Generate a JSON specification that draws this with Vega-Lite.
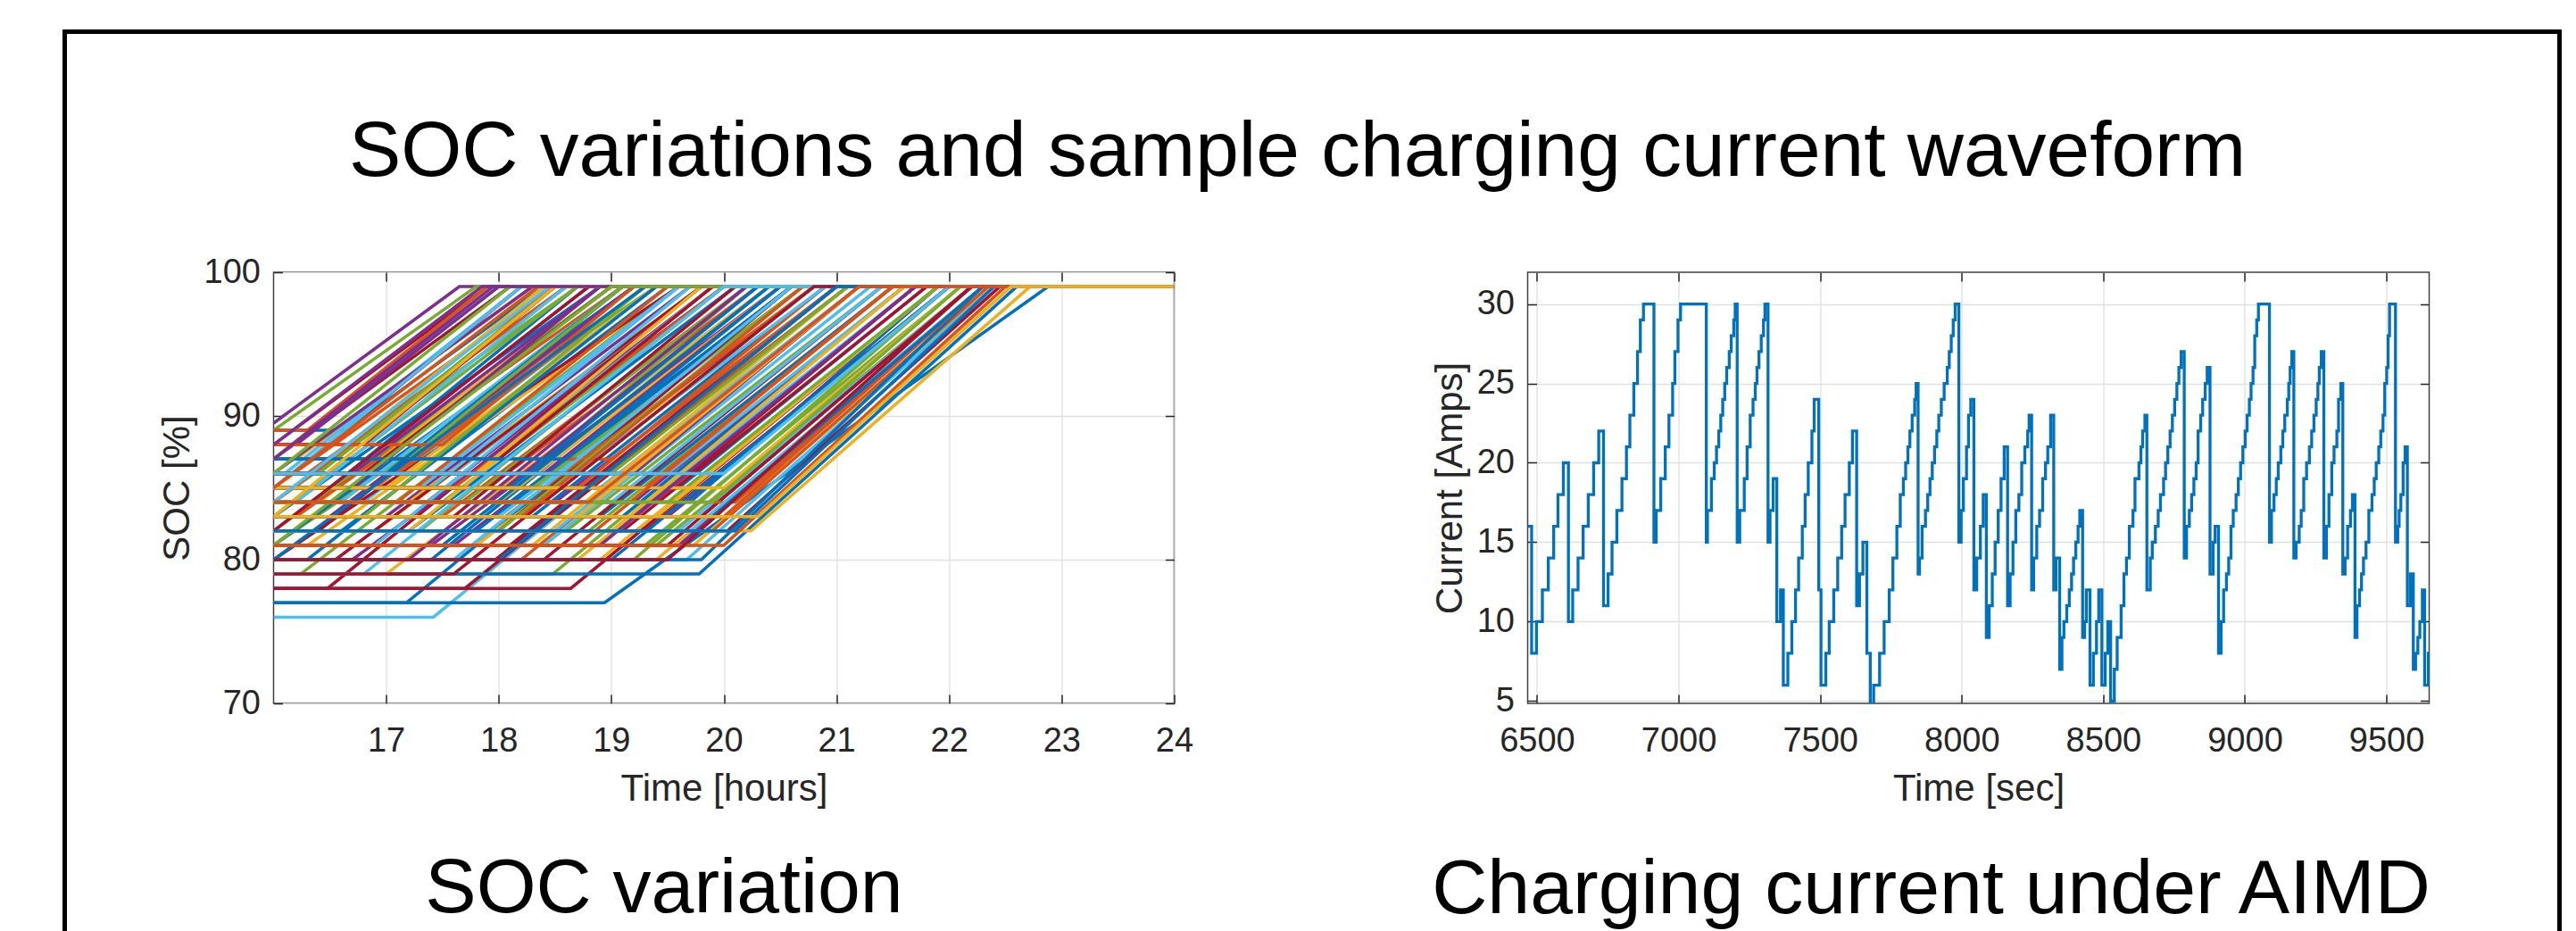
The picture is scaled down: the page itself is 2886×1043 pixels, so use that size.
{
"$schema": "https://vega.github.io/schema/vega-lite/v6.json",
"background": "white",
"padding": {"left": 71.5, "top": 34, "right": 0, "bottom": 0},
"config": {
  "font": "Liberation Sans",
  "view": {"stroke": null},
  "axis": {"labelFont": "Liberation Sans", "titleFont": "Liberation Sans", "labelFontSize": 38, "titleFontSize": 42, "labelColor": "#262626", "titleColor": "#262626", "titleFontWeight": "normal", "domain": false, "tickColor": "#262626", "tickSize": -10, "tickWidth": 1.5, "gridColor": "#e0e0e0", "gridWidth": 1.3, "labelFlush": false, "labelOverlap": false, "format": "d"},
  "legend": {"gradientHorizontalMaxLength": 4000, "gradientVerticalMaxLength": 4000},
  "title": {"font": "Liberation Sans", "fontWeight": "normal", "color": "black"}
},
"title": {"text": "SOC variations and sample charging current waveform", "fontSize": 87.5, "baseline": "alphabetic", "offset": -250, "dx": -18, "anchor": "middle"},
"bounds": "flush",
"spacing": 396,
"hconcat": [
   {
    "width": 1009, "height": 483,
    "view": {"stroke": "#404040", "strokeWidth": 1.5},
    "title": {"text": "SOC variation", "orient": "bottom", "fontSize": 86, "baseline": "alphabetic", "offset": 118, "frame": "group", "anchor": "middle", "dx": -67},
    "layer": [
     {
      "data": {"values": [
{"k":1,"t":16,"s":89},{"k":1,"t":16.64,"s":89},{"k":1,"t":18.4,"s":99},{"k":1,"t":24,"s":99},
{"k":2,"t":16,"s":85},{"k":2,"t":18.5,"s":99},{"k":2,"t":24,"s":99},
{"k":3,"t":16,"s":87},{"k":3,"t":16.2,"s":87},{"k":3,"t":18.3,"s":99},{"k":3,"t":24,"s":99},
{"k":4,"t":16,"s":89.5},{"k":4,"t":17.65,"s":99},{"k":4,"t":24,"s":99},
{"k":5,"t":16,"s":84},{"k":5,"t":18.7,"s":99},{"k":5,"t":24,"s":99},
{"k":6,"t":16,"s":86},{"k":6,"t":16.1,"s":86},{"k":6,"t":18.2,"s":99},{"k":6,"t":24,"s":99},
{"k":7,"t":16,"s":88},{"k":7,"t":16.48,"s":88},{"k":7,"t":18.2,"s":99},{"k":7,"t":24,"s":99},
{"k":8,"t":16,"s":83},{"k":8,"t":18.9,"s":99},{"k":8,"t":24,"s":99},
{"k":9,"t":16,"s":86},{"k":9,"t":16.3,"s":86},{"k":9,"t":18.6,"s":99},{"k":9,"t":24,"s":99},
{"k":10,"t":16,"s":84},{"k":10,"t":16.4,"s":84},{"k":10,"t":19.0,"s":99},{"k":10,"t":24,"s":99},
{"k":11,"t":16,"s":84},{"k":11,"t":17.36,"s":84},{"k":11,"t":19.8,"s":99},{"k":11,"t":24,"s":99},
{"k":12,"t":16,"s":82},{"k":12,"t":19.0,"s":99},{"k":12,"t":24,"s":99},
{"k":13,"t":16,"s":87},{"k":13,"t":18.0,"s":99},{"k":13,"t":24,"s":99},
{"k":14,"t":16,"s":88},{"k":14,"t":17.9,"s":99},{"k":14,"t":24,"s":99},
{"k":15,"t":16,"s":85},{"k":15,"t":16.5,"s":85},{"k":15,"t":18.7,"s":99},{"k":15,"t":24,"s":99},
{"k":16,"t":16,"s":83},{"k":16,"t":16.2,"s":83},{"k":16,"t":19.1,"s":99},{"k":16,"t":24,"s":99},
{"k":17,"t":16,"s":87},{"k":17,"t":16.95,"s":87},{"k":17,"t":18.9,"s":99},{"k":17,"t":24,"s":99},
{"k":18,"t":16,"s":86},{"k":18,"t":16.7,"s":86},{"k":18,"t":18.9,"s":99},{"k":18,"t":24,"s":99},
{"k":19,"t":16,"s":81},{"k":19,"t":19.4,"s":99},{"k":19,"t":24,"s":99},
{"k":20,"t":16,"s":84},{"k":20,"t":16.8,"s":84},{"k":20,"t":19.3,"s":99},{"k":20,"t":24,"s":99},
{"k":21,"t":16,"s":78},{"k":21,"t":16.48,"s":78},{"k":21,"t":19.8,"s":99},{"k":21,"t":24,"s":99},
{"k":22,"t":16,"s":82},{"k":22,"t":16.6,"s":82},{"k":22,"t":19.5,"s":99},{"k":22,"t":24,"s":99},
{"k":23,"t":16,"s":85},{"k":23,"t":16.9,"s":85},{"k":23,"t":19.2,"s":99},{"k":23,"t":24,"s":99},
{"k":24,"t":16,"s":81},{"k":24,"t":16.3,"s":81},{"k":24,"t":19.6,"s":99},{"k":24,"t":24,"s":99},
{"k":25,"t":16,"s":83},{"k":25,"t":17.0,"s":83},{"k":25,"t":19.7,"s":99},{"k":25,"t":24,"s":99},
{"k":26,"t":16,"s":79},{"k":26,"t":16.24,"s":79},{"k":26,"t":19.6,"s":99},{"k":26,"t":24,"s":99},
{"k":27,"t":16,"s":76},{"k":27,"t":17.42,"s":76},{"k":27,"t":21.0,"s":99},{"k":27,"t":24,"s":99},
{"k":28,"t":16,"s":80},{"k":28,"t":19.6,"s":99},{"k":28,"t":24,"s":99},
{"k":29,"t":16,"s":77},{"k":29,"t":17.18,"s":77},{"k":29,"t":20.6,"s":99},{"k":29,"t":24,"s":99},
{"k":30,"t":16,"s":86},{"k":30,"t":17.1,"s":86},{"k":30,"t":19.3,"s":99},{"k":30,"t":24,"s":99},
{"k":31,"t":16,"s":84},{"k":31,"t":17.2,"s":84},{"k":31,"t":19.8,"s":99},{"k":31,"t":24,"s":99},
{"k":32,"t":16,"s":88},{"k":32,"t":17.0,"s":88},{"k":32,"t":18.8,"s":99},{"k":32,"t":24,"s":99},
{"k":33,"t":16,"s":82},{"k":33,"t":17.3,"s":82},{"k":33,"t":20.0,"s":99},{"k":33,"t":24,"s":99},
{"k":34,"t":16,"s":85},{"k":34,"t":17.3,"s":85},{"k":34,"t":19.6,"s":99},{"k":34,"t":24,"s":99},
{"k":35,"t":16,"s":78},{"k":35,"t":17.7,"s":78},{"k":35,"t":21.0,"s":99},{"k":35,"t":24,"s":99},
{"k":36,"t":16,"s":80},{"k":36,"t":17.4,"s":80},{"k":36,"t":20.4,"s":99},{"k":36,"t":24,"s":99},
{"k":37,"t":16,"s":83},{"k":37,"t":17.5,"s":83},{"k":37,"t":20.2,"s":99},{"k":37,"t":24,"s":99},
{"k":38,"t":16,"s":87},{"k":38,"t":17.4,"s":87},{"k":38,"t":19.4,"s":99},{"k":38,"t":24,"s":99},
{"k":39,"t":16,"s":81},{"k":39,"t":17.6,"s":81},{"k":39,"t":20.6,"s":99},{"k":39,"t":24,"s":99},
{"k":40,"t":16,"s":84},{"k":40,"t":17.7,"s":84},{"k":40,"t":20.2,"s":99},{"k":40,"t":24,"s":99},
{"k":41,"t":16,"s":86},{"k":41,"t":17.6,"s":86},{"k":41,"t":19.8,"s":99},{"k":41,"t":24,"s":99},
{"k":42,"t":16,"s":80},{"k":42,"t":17.97,"s":80},{"k":42,"t":21.0,"s":99},{"k":42,"t":24,"s":99},
{"k":43,"t":16,"s":82},{"k":43,"t":17.8,"s":82},{"k":43,"t":20.6,"s":99},{"k":43,"t":24,"s":99},
{"k":44,"t":16,"s":85},{"k":44,"t":17.9,"s":85},{"k":44,"t":20.3,"s":99},{"k":44,"t":24,"s":99},
{"k":45,"t":16,"s":81},{"k":45,"t":17.8,"s":81},{"k":45,"t":20.8,"s":99},{"k":45,"t":24,"s":99},
{"k":46,"t":16,"s":87},{"k":46,"t":17.9,"s":87},{"k":46,"t":19.9,"s":99},{"k":46,"t":24,"s":99},
{"k":47,"t":16,"s":79},{"k":47,"t":18.48,"s":79},{"k":47,"t":21.6,"s":99},{"k":47,"t":24,"s":99},
{"k":48,"t":16,"s":83},{"k":48,"t":18.0,"s":83},{"k":48,"t":20.7,"s":99},{"k":48,"t":24,"s":99},
{"k":49,"t":16,"s":78},{"k":49,"t":18.64,"s":78},{"k":49,"t":21.9,"s":99},{"k":49,"t":24,"s":99},
{"k":50,"t":16,"s":84},{"k":50,"t":18.1,"s":84},{"k":50,"t":20.6,"s":99},{"k":50,"t":24,"s":99},
{"k":51,"t":16,"s":80},{"k":51,"t":18.2,"s":80},{"k":51,"t":21.2,"s":99},{"k":51,"t":24,"s":99},
{"k":52,"t":16,"s":86},{"k":52,"t":18.2,"s":86},{"k":52,"t":20.4,"s":99},{"k":52,"t":24,"s":99},
{"k":53,"t":16,"s":84},{"k":53,"t":18.5,"s":84},{"k":53,"t":21.0,"s":99},{"k":53,"t":24,"s":99},
{"k":54,"t":16,"s":85},{"k":54,"t":18.3,"s":85},{"k":54,"t":20.7,"s":99},{"k":54,"t":24,"s":99},
{"k":55,"t":16,"s":81},{"k":55,"t":18.4,"s":81},{"k":55,"t":21.3,"s":99},{"k":55,"t":24,"s":99},
{"k":56,"t":16,"s":83},{"k":56,"t":18.5,"s":83},{"k":56,"t":21.1,"s":99},{"k":56,"t":24,"s":99},
{"k":57,"t":16,"s":77},{"k":57,"t":18.94,"s":77},{"k":57,"t":22.88,"s":99},{"k":57,"t":24,"s":99},
{"k":58,"t":16,"s":84},{"k":58,"t":18.6,"s":84},{"k":58,"t":21.1,"s":99},{"k":58,"t":24,"s":99},
{"k":59,"t":16,"s":80},{"k":59,"t":18.7,"s":80},{"k":59,"t":21.7,"s":99},{"k":59,"t":24,"s":99},
{"k":60,"t":16,"s":86},{"k":60,"t":18.6,"s":86},{"k":60,"t":20.8,"s":99},{"k":60,"t":24,"s":99},
{"k":61,"t":16,"s":82},{"k":61,"t":18.8,"s":82},{"k":61,"t":21.5,"s":99},{"k":61,"t":24,"s":99},
{"k":62,"t":16,"s":85},{"k":62,"t":18.9,"s":85},{"k":62,"t":21.2,"s":99},{"k":62,"t":24,"s":99},
{"k":63,"t":16,"s":82},{"k":63,"t":18.0,"s":82},{"k":63,"t":20.6,"s":99},{"k":63,"t":24,"s":99},
{"k":64,"t":16,"s":83},{"k":64,"t":19.1,"s":83},{"k":64,"t":21.6,"s":99},{"k":64,"t":24,"s":99},
{"k":65,"t":16,"s":83},{"k":65,"t":18.06,"s":83},{"k":65,"t":20.8,"s":99},{"k":65,"t":24,"s":99},
{"k":66,"t":16,"s":81},{"k":66,"t":19.73,"s":81},{"k":66,"t":22.4,"s":99},{"k":66,"t":24,"s":99},
{"k":67,"t":16,"s":85},{"k":67,"t":19.84,"s":85},{"k":67,"t":21.9,"s":99},{"k":67,"t":24,"s":99},
{"k":68,"t":16,"s":80},{"k":68,"t":19.2,"s":80},{"k":68,"t":22.0,"s":99},{"k":68,"t":24,"s":99},
{"k":69,"t":16,"s":80},{"k":69,"t":19.67,"s":80},{"k":69,"t":22.4,"s":99},{"k":69,"t":24,"s":99},
{"k":70,"t":16,"s":82},{"k":70,"t":20.03,"s":82},{"k":70,"t":22.45,"s":99},{"k":70,"t":24,"s":99},
{"k":71,"t":16,"s":79},{"k":71,"t":19.78,"s":79},{"k":71,"t":22.6,"s":99},{"k":71,"t":24,"s":99},
{"k":72,"t":16,"s":84},{"k":72,"t":19.4,"s":84},{"k":72,"t":21.7,"s":99},{"k":72,"t":24,"s":99},
{"k":73,"t":16,"s":80},{"k":73,"t":19.4,"s":80},{"k":73,"t":22.3,"s":99},{"k":73,"t":24,"s":99},
{"k":74,"t":16,"s":83},{"k":74,"t":19.5,"s":83},{"k":74,"t":22.0,"s":99},{"k":74,"t":24,"s":99},
{"k":75,"t":16,"s":81},{"k":75,"t":19.4,"s":81},{"k":75,"t":22.2,"s":99},{"k":75,"t":24,"s":99},
{"k":76,"t":16,"s":82},{"k":76,"t":19.6,"s":82},{"k":76,"t":22.2,"s":99},{"k":76,"t":24,"s":99},
{"k":77,"t":16,"s":83},{"k":77,"t":19.8,"s":83},{"k":77,"t":22.2,"s":99},{"k":77,"t":24,"s":99},
{"k":78,"t":16,"s":84},{"k":78,"t":19.7,"s":84},{"k":78,"t":21.9,"s":99},{"k":78,"t":24,"s":99},
{"k":79,"t":16,"s":82},{"k":79,"t":19.9,"s":82},{"k":79,"t":22.35,"s":99},{"k":79,"t":24,"s":99},
{"k":80,"t":16,"s":82},{"k":80,"t":20.24,"s":82},{"k":80,"t":22.72,"s":99},{"k":80,"t":24,"s":99},
{"k":81,"t":16,"s":86},{"k":81,"t":18.3,"s":99},{"k":81,"t":24,"s":99},
{"k":82,"t":16,"s":83},{"k":82,"t":18.7,"s":99},{"k":82,"t":24,"s":99},
{"k":83,"t":16,"s":85},{"k":83,"t":18.2,"s":99},{"k":83,"t":24,"s":99},
{"k":84,"t":16,"s":87},{"k":84,"t":18.1,"s":99},{"k":84,"t":24,"s":99},
{"k":85,"t":16,"s":81},{"k":85,"t":19.2,"s":99},{"k":85,"t":24,"s":99},
{"k":86,"t":16,"s":84},{"k":86,"t":18.6,"s":99},{"k":86,"t":24,"s":99},
{"k":87,"t":16,"s":82},{"k":87,"t":16.9,"s":82},{"k":87,"t":19.8,"s":99},{"k":87,"t":24,"s":99},
{"k":88,"t":16,"s":80},{"k":88,"t":16.7,"s":80},{"k":88,"t":20.0,"s":99},{"k":88,"t":24,"s":99},
{"k":89,"t":16,"s":84},{"k":89,"t":17.5,"s":84},{"k":89,"t":20.0,"s":99},{"k":89,"t":24,"s":99},
{"k":90,"t":16,"s":86},{"k":90,"t":17.8,"s":86},{"k":90,"t":19.9,"s":99},{"k":90,"t":24,"s":99},
{"k":91,"t":16,"s":81},{"k":91,"t":18.1,"s":81},{"k":91,"t":21.0,"s":99},{"k":91,"t":24,"s":99},
{"k":92,"t":16,"s":83},{"k":92,"t":18.3,"s":83},{"k":92,"t":20.9,"s":99},{"k":92,"t":24,"s":99},
{"k":93,"t":16,"s":85},{"k":93,"t":18.7,"s":85},{"k":93,"t":20.9,"s":99},{"k":93,"t":24,"s":99},
{"k":94,"t":16,"s":80},{"k":94,"t":18.9,"s":80},{"k":94,"t":21.9,"s":99},{"k":94,"t":24,"s":99},
{"k":95,"t":16,"s":84},{"k":95,"t":19.2,"s":84},{"k":95,"t":21.6,"s":99},{"k":95,"t":24,"s":99},
{"k":96,"t":16,"s":81},{"k":96,"t":19.3,"s":81},{"k":96,"t":22.1,"s":99},{"k":96,"t":24,"s":99},
{"k":97,"t":16,"s":86},{"k":97,"t":19.5,"s":86},{"k":97,"t":21.6,"s":99},{"k":97,"t":24,"s":99},
{"k":98,"t":16,"s":82},{"k":98,"t":19.3,"s":82},{"k":98,"t":22.0,"s":99},{"k":98,"t":24,"s":99},
{"k":99,"t":16,"s":80},{"k":99,"t":19.8,"s":80},{"k":99,"t":22.3,"s":99},{"k":99,"t":24,"s":99},
{"k":100,"t":16,"s":83},{"k":100,"t":20.0,"s":83},{"k":100,"t":22.3,"s":99},{"k":100,"t":24,"s":99},
{"k":101,"t":16,"s":87},{"k":101,"t":17.9,"s":99},{"k":101,"t":24,"s":99},
{"k":102,"t":16,"s":83},{"k":102,"t":16.5,"s":83},{"k":102,"t":19.2,"s":99},{"k":102,"t":24,"s":99},
{"k":103,"t":16,"s":89},{"k":103,"t":17.8,"s":99},{"k":103,"t":24,"s":99},
{"k":104,"t":16,"s":84},{"k":104,"t":16.6,"s":84},{"k":104,"t":19.1,"s":99},{"k":104,"t":24,"s":99},
{"k":105,"t":16,"s":86},{"k":105,"t":16.8,"s":86},{"k":105,"t":19.0,"s":99},{"k":105,"t":24,"s":99},
{"k":106,"t":16,"s":82},{"k":106,"t":17.2,"s":82},{"k":106,"t":20.1,"s":99},{"k":106,"t":24,"s":99},
{"k":107,"t":16,"s":85},{"k":107,"t":17.6,"s":85},{"k":107,"t":20.0,"s":99},{"k":107,"t":24,"s":99},
{"k":108,"t":16,"s":79},{"k":108,"t":17.0,"s":79},{"k":108,"t":20.4,"s":99},{"k":108,"t":24,"s":99},
{"k":109,"t":16,"s":81},{"k":109,"t":17.4,"s":81},{"k":109,"t":20.5,"s":99},{"k":109,"t":24,"s":99},
{"k":110,"t":16,"s":87},{"k":110,"t":18.4,"s":87},{"k":110,"t":20.2,"s":99},{"k":110,"t":24,"s":99},
{"k":111,"t":16,"s":85},{"k":111,"t":18.5,"s":85},{"k":111,"t":20.9,"s":99},{"k":111,"t":24,"s":99},
{"k":112,"t":16,"s":80},{"k":112,"t":16.55,"s":80},{"k":112,"t":19.8,"s":99},{"k":112,"t":24,"s":99},
{"k":113,"t":16,"s":83},{"k":113,"t":18.9,"s":83},{"k":113,"t":21.5,"s":99},{"k":113,"t":24,"s":99},
{"k":114,"t":16,"s":87},{"k":114,"t":19.0,"s":87},{"k":114,"t":21.0,"s":99},{"k":114,"t":24,"s":99},
{"k":115,"t":16,"s":84},{"k":115,"t":18.0,"s":84},{"k":115,"t":20.5,"s":99},{"k":115,"t":24,"s":99},
{"k":116,"t":16,"s":86},{"k":116,"t":19.2,"s":86},{"k":116,"t":21.2,"s":99},{"k":116,"t":24,"s":99},
{"k":117,"t":16,"s":82},{"k":117,"t":18.6,"s":82},{"k":117,"t":21.4,"s":99},{"k":117,"t":24,"s":99},
{"k":118,"t":16,"s":84},{"k":118,"t":19.3,"s":84},{"k":118,"t":21.7,"s":99},{"k":118,"t":24,"s":99},
{"k":119,"t":16,"s":81},{"k":119,"t":19.5,"s":81},{"k":119,"t":22.2,"s":99},{"k":119,"t":24,"s":99},
{"k":120,"t":16,"s":85},{"k":120,"t":19.6,"s":85},{"k":120,"t":21.8,"s":99},{"k":120,"t":24,"s":99},
{"k":121,"t":16,"s":84},{"k":121,"t":20.1,"s":84},{"k":121,"t":22.3,"s":99},{"k":121,"t":24,"s":99},
{"k":122,"t":16,"s":85},{"k":122,"t":17.0,"s":85},{"k":122,"t":19.4,"s":99},{"k":122,"t":24,"s":99},
{"k":123,"t":16,"s":88},{"k":123,"t":16.2,"s":88},{"k":123,"t":18.0,"s":99},{"k":123,"t":24,"s":99},
{"k":124,"t":16,"s":86},{"k":124,"t":16.4,"s":86},{"k":124,"t":18.5,"s":99},{"k":124,"t":24,"s":99},
{"k":125,"t":16,"s":84},{"k":125,"t":16.2,"s":84},{"k":125,"t":18.6,"s":99},{"k":125,"t":24,"s":99},
{"k":126,"t":16,"s":82},{"k":126,"t":16.4,"s":82},{"k":126,"t":19.1,"s":99},{"k":126,"t":24,"s":99},
{"k":127,"t":16,"s":80},{"k":127,"t":16.3,"s":80},{"k":127,"t":19.4,"s":99},{"k":127,"t":24,"s":99},
{"k":128,"t":16,"s":89},{"k":128,"t":16.3,"s":89},{"k":128,"t":17.9,"s":99},{"k":128,"t":24,"s":99},
{"k":129,"t":16,"s":87},{"k":129,"t":16.5,"s":87},{"k":129,"t":18.4,"s":99},{"k":129,"t":24,"s":99},
{"k":130,"t":16,"s":85},{"k":130,"t":16.7,"s":85},{"k":130,"t":18.9,"s":99},{"k":130,"t":24,"s":99},
{"k":131,"t":16,"s":83},{"k":131,"t":16.8,"s":83},{"k":131,"t":19.3,"s":99},{"k":131,"t":24,"s":99},
{"k":132,"t":16,"s":81},{"k":132,"t":16.9,"s":81},{"k":132,"t":19.7,"s":99},{"k":132,"t":24,"s":99},
{"k":133,"t":16,"s":88},{"k":133,"t":16.8,"s":88},{"k":133,"t":18.5,"s":99},{"k":133,"t":24,"s":99},
{"k":134,"t":16,"s":86},{"k":134,"t":17.0,"s":86},{"k":134,"t":19.1,"s":99},{"k":134,"t":24,"s":99},
{"k":135,"t":16,"s":84},{"k":135,"t":17.1,"s":84},{"k":135,"t":19.5,"s":99},{"k":135,"t":24,"s":99},
{"k":136,"t":16,"s":82},{"k":136,"t":17.2,"s":82},{"k":136,"t":19.9,"s":99},{"k":136,"t":24,"s":99},
{"k":137,"t":16,"s":80},{"k":137,"t":17.2,"s":80},{"k":137,"t":20.2,"s":99},{"k":137,"t":24,"s":99},
{"k":138,"t":16,"s":87},{"k":138,"t":17.2,"s":87},{"k":138,"t":19.1,"s":99},{"k":138,"t":24,"s":99},
{"k":139,"t":16,"s":85},{"k":139,"t":17.4,"s":85},{"k":139,"t":19.6,"s":99},{"k":139,"t":24,"s":99},
{"k":140,"t":16,"s":83},{"k":140,"t":17.6,"s":83},{"k":140,"t":20.1,"s":99},{"k":140,"t":24,"s":99},
{"k":141,"t":16,"s":81},{"k":141,"t":17.5,"s":81},{"k":141,"t":20.4,"s":99},{"k":141,"t":24,"s":99},
{"k":142,"t":16,"s":88},{"k":142,"t":17.5,"s":88},{"k":142,"t":19.2,"s":99},{"k":142,"t":24,"s":99},
{"k":143,"t":16,"s":86},{"k":143,"t":17.8,"s":86},{"k":143,"t":19.8,"s":99},{"k":143,"t":24,"s":99},
{"k":144,"t":16,"s":84},{"k":144,"t":17.9,"s":84},{"k":144,"t":20.3,"s":99},{"k":144,"t":24,"s":99},
{"k":145,"t":16,"s":82},{"k":145,"t":18.0,"s":82},{"k":145,"t":20.7,"s":99},{"k":145,"t":24,"s":99},
{"k":146,"t":16,"s":80},{"k":146,"t":17.6,"s":80},{"k":146,"t":20.6,"s":99},{"k":146,"t":24,"s":99},
{"k":147,"t":16,"s":87},{"k":147,"t":18.0,"s":87},{"k":147,"t":19.9,"s":99},{"k":147,"t":24,"s":99},
{"k":148,"t":16,"s":85},{"k":148,"t":18.1,"s":85},{"k":148,"t":20.3,"s":99},{"k":148,"t":24,"s":99},
{"k":149,"t":16,"s":83},{"k":149,"t":18.2,"s":83},{"k":149,"t":20.7,"s":99},{"k":149,"t":24,"s":99},
{"k":150,"t":16,"s":81},{"k":150,"t":18.3,"s":81},{"k":150,"t":21.1,"s":99},{"k":150,"t":24,"s":99},
{"k":151,"t":16,"s":86},{"k":151,"t":18.4,"s":86},{"k":151,"t":20.5,"s":99},{"k":151,"t":24,"s":99},
{"k":152,"t":16,"s":84},{"k":152,"t":18.4,"s":84},{"k":152,"t":20.8,"s":99},{"k":152,"t":24,"s":99},
{"k":153,"t":16,"s":82},{"k":153,"t":18.5,"s":82},{"k":153,"t":21.2,"s":99},{"k":153,"t":24,"s":99},
{"k":154,"t":16,"s":80},{"k":154,"t":18.4,"s":80},{"k":154,"t":21.4,"s":99},{"k":154,"t":24,"s":99},
{"k":155,"t":16,"s":87},{"k":155,"t":18.6,"s":87},{"k":155,"t":20.5,"s":99},{"k":155,"t":24,"s":99},
{"k":156,"t":16,"s":85},{"k":156,"t":18.8,"s":85},{"k":156,"t":21.0,"s":99},{"k":156,"t":24,"s":99},
{"k":157,"t":16,"s":83},{"k":157,"t":18.7,"s":83},{"k":157,"t":21.2,"s":99},{"k":157,"t":24,"s":99},
{"k":158,"t":16,"s":81},{"k":158,"t":18.9,"s":81},{"k":158,"t":21.7,"s":99},{"k":158,"t":24,"s":99},
{"k":159,"t":16,"s":86},{"k":159,"t":19.0,"s":86},{"k":159,"t":21.1,"s":99},{"k":159,"t":24,"s":99},
{"k":160,"t":16,"s":84},{"k":160,"t":19.0,"s":84},{"k":160,"t":21.4,"s":99},{"k":160,"t":24,"s":99},
{"k":161,"t":16,"s":82},{"k":161,"t":19.1,"s":82},{"k":161,"t":21.8,"s":99},{"k":161,"t":24,"s":99},
{"k":162,"t":16,"s":80},{"k":162,"t":19.0,"s":80},{"k":162,"t":22.0,"s":99},{"k":162,"t":24,"s":99},
{"k":163,"t":16,"s":85},{"k":163,"t":19.3,"s":85},{"k":163,"t":21.5,"s":99},{"k":163,"t":24,"s":99},
{"k":164,"t":16,"s":83},{"k":164,"t":19.4,"s":83},{"k":164,"t":21.9,"s":99},{"k":164,"t":24,"s":99},
{"k":165,"t":16,"s":81},{"k":165,"t":19.6,"s":81},{"k":165,"t":22.3,"s":99},{"k":165,"t":24,"s":99},
{"k":166,"t":16,"s":84},{"k":166,"t":19.5,"s":84},{"k":166,"t":21.9,"s":99},{"k":166,"t":24,"s":99},
{"k":167,"t":16,"s":82},{"k":167,"t":19.7,"s":82},{"k":167,"t":22.3,"s":99},{"k":167,"t":24,"s":99},
{"k":168,"t":16,"s":86},{"k":168,"t":19.7,"s":86},{"k":168,"t":21.7,"s":99},{"k":168,"t":24,"s":99},
{"k":169,"t":16,"s":83},{"k":169,"t":19.9,"s":83},{"k":169,"t":22.3,"s":99},{"k":169,"t":24,"s":99},
{"k":170,"t":16,"s":81},{"k":170,"t":20.0,"s":81},{"k":170,"t":22.5,"s":99},{"k":170,"t":24,"s":99},
{"k":171,"t":16,"s":85},{"k":171,"t":20.0,"s":85},{"k":171,"t":22.1,"s":99},{"k":171,"t":24,"s":99},
{"k":172,"t":16,"s":88},{"k":172,"t":17.85,"s":99},{"k":172,"t":24,"s":99},
{"k":173,"t":16,"s":86},{"k":173,"t":18.1,"s":99},{"k":173,"t":24,"s":99},
{"k":174,"t":16,"s":84},{"k":174,"t":18.45,"s":99},{"k":174,"t":24,"s":99},
{"k":175,"t":16,"s":82},{"k":175,"t":18.8,"s":99},{"k":175,"t":24,"s":99},
{"k":176,"t":16,"s":80},{"k":176,"t":19.3,"s":99},{"k":176,"t":24,"s":99},
{"k":177,"t":16,"s":85},{"k":177,"t":18.35,"s":99},{"k":177,"t":24,"s":99},
{"k":178,"t":16,"s":83},{"k":178,"t":18.5,"s":99},{"k":178,"t":24,"s":99},
{"k":179,"t":16,"s":87},{"k":179,"t":17.95,"s":99},{"k":179,"t":24,"s":99},
{"k":180,"t":16,"s":81},{"k":180,"t":19.0,"s":99},{"k":180,"t":24,"s":99},
{"k":181,"t":16,"s":79},{"k":181,"t":16.8,"s":79},{"k":181,"t":20.0,"s":99},{"k":181,"t":24,"s":99},
{"k":182,"t":16,"s":79},{"k":182,"t":17.6,"s":79},{"k":182,"t":20.8,"s":99},{"k":182,"t":24,"s":99},
{"k":183,"t":16,"s":80},{"k":183,"t":18.0,"s":80},{"k":183,"t":21.0,"s":99},{"k":183,"t":24,"s":99},
{"k":184,"t":16,"s":81},{"k":184,"t":18.7,"s":81},{"k":184,"t":21.5,"s":99},{"k":184,"t":24,"s":99},
{"k":185,"t":16,"s":82},{"k":185,"t":19.0,"s":82},{"k":185,"t":21.6,"s":99},{"k":185,"t":24,"s":99},
{"k":186,"t":16,"s":83},{"k":186,"t":19.2,"s":83},{"k":186,"t":21.7,"s":99},{"k":186,"t":24,"s":99},
{"k":187,"t":16,"s":84},{"k":187,"t":19.9,"s":84},{"k":187,"t":22.1,"s":99},{"k":187,"t":24,"s":99},
{"k":188,"t":16,"s":86},{"k":188,"t":20.0,"s":86},{"k":188,"t":22.0,"s":99},{"k":188,"t":24,"s":99},
{"k":189,"t":16,"s":80},{"k":189,"t":19.5,"s":80},{"k":189,"t":22.2,"s":99},{"k":189,"t":24,"s":99},
{"k":190,"t":16,"s":82},{"k":190,"t":20.1,"s":82},{"k":190,"t":22.4,"s":99},{"k":190,"t":24,"s":99},
{"k":191,"t":16,"s":84},{"k":191,"t":18.8,"s":84},{"k":191,"t":21.2,"s":99},{"k":191,"t":24,"s":99},
{"k":192,"t":16,"s":83},{"k":192,"t":20.3,"s":83},{"k":192,"t":22.55,"s":99},{"k":192,"t":24,"s":99}
      ]},
      "mark": {"type": "line", "strokeWidth": 3.5, "clip": true},
      "encoding": {
        "x": {"field": "t", "type": "quantitative", "scale": {"domain": [16, 24], "nice": false, "zero": false}, "axis": {"values": [17,18,19,20,21,22,23,24], "title": "Time [hours]", "grid": true, "labelPadding": 33, "titlePadding": 14}},
        "y": {"field": "s", "type": "quantitative", "scale": {"domain": [70, 100], "nice": false, "zero": false}, "axis": {"values": [70,80,90,100], "title": "SOC [%]", "grid": true, "labelPadding": 25, "titlePadding": 8}},
        "color": {"field": "k", "type": "nominal", "scale": {"range": ["#0072BD","#D95319","#EDB120","#7E2F8E","#77AC30","#4DBEEE","#A2142F"]}, "legend": null}
      }
     },
     {
      "data": {"values": [{"t": 16, "s": 70}]},
      "mark": {"type": "point", "opacity": 0},
      "encoding": {
        "x": {"field": "t", "type": "quantitative", "axis": {"orient": "top", "values": [17,18,19,20,21,22,23,24], "labels": false, "title": null, "grid": false}},
        "y": {"field": "s", "type": "quantitative", "axis": {"orient": "right", "values": [70,80,90,100], "labels": false, "title": null, "grid": false}}
      }
     }
    ],
    "resolve": {"axis": {"x": "independent", "y": "independent"}}
   },
   {
    "width": 1010, "height": 483,
    "view": {"stroke": "#404040", "strokeWidth": 1.5},
    "title": {"text": "Charging current  under AIMD", "orient": "bottom", "fontSize": 86, "baseline": "alphabetic", "offset": -56, "frame": "group", "anchor": "middle", "dx": -53},
    "layer": [
     {
      "data": {"values": [
{"t":6460,"a":16},{"t":6481,"a":8},{"t":6498,"a":10},{"t":6519,"a":12},{"t":6540,"a":14},{"t":6559,"a":16},{"t":6574,"a":18},{"t":6593,"a":20},
{"t":6611,"a":10},{"t":6626,"a":12},{"t":6645,"a":14},{"t":6663,"a":16},{"t":6681,"a":18},{"t":6700,"a":20},{"t":6718,"a":22},
{"t":6735,"a":11},{"t":6751,"a":13},{"t":6765,"a":15},{"t":6782,"a":17},{"t":6800,"a":19},{"t":6816,"a":21},{"t":6828,"a":23},{"t":6842,"a":25},{"t":6855,"a":27},{"t":6865,"a":29},{"t":6876,"a":30},
{"t":6913,"a":15},{"t":6921,"a":17},{"t":6937,"a":19},{"t":6953,"a":21},{"t":6966,"a":23},{"t":6979,"a":25},{"t":6987,"a":27},{"t":6998,"a":29},{"t":7007,"a":30},
{"t":7098,"a":15},{"t":7102,"a":17},{"t":7116,"a":19},{"t":7126,"a":20},{"t":7134,"a":21},{"t":7142,"a":22},{"t":7149,"a":23},{"t":7156,"a":24},{"t":7163,"a":25},{"t":7170,"a":26},{"t":7179,"a":27},{"t":7186,"a":28},{"t":7195,"a":29},{"t":7200,"a":30},
{"t":7207,"a":15},{"t":7216,"a":17},{"t":7232,"a":19},{"t":7242,"a":21},{"t":7253,"a":23},{"t":7263,"a":24},{"t":7271,"a":25},{"t":7277,"a":26},{"t":7284,"a":27},{"t":7292,"a":28},{"t":7300,"a":29},{"t":7305,"a":30},
{"t":7316,"a":15},{"t":7323,"a":17},{"t":7334,"a":19},{"t":7347,"a":10},{"t":7360,"a":12},{"t":7370,"a":6},{"t":7386,"a":8},{"t":7400,"a":10},{"t":7413,"a":12},{"t":7424,"a":14},{"t":7437,"a":16},{"t":7447,"a":18},{"t":7458,"a":20},{"t":7471,"a":22},{"t":7479,"a":24},
{"t":7495,"a":12},{"t":7503,"a":6},{"t":7520,"a":8},{"t":7532,"a":10},{"t":7548,"a":12},{"t":7562,"a":14},{"t":7576,"a":16},{"t":7588,"a":18},{"t":7603,"a":20},{"t":7614,"a":22},
{"t":7629,"a":11},{"t":7639,"a":13},{"t":7651,"a":15},{"t":7665,"a":8},{"t":7677,"a":4},{"t":7689,"a":6},{"t":7710,"a":8},{"t":7726,"a":10},{"t":7744,"a":12},{"t":7757,"a":14},{"t":7771,"a":16},{"t":7783,"a":18},{"t":7794,"a":19},{"t":7802,"a":20},{"t":7810,"a":21},{"t":7817,"a":22},{"t":7825,"a":23},{"t":7834,"a":24},{"t":7839,"a":25},
{"t":7846,"a":13},{"t":7851,"a":14},{"t":7860,"a":16},{"t":7872,"a":17},{"t":7880,"a":18},{"t":7888,"a":19},{"t":7896,"a":20},{"t":7904,"a":21},{"t":7912,"a":22},{"t":7919,"a":23},{"t":7928,"a":24},{"t":7938,"a":25},{"t":7949,"a":26},{"t":7956,"a":27},{"t":7963,"a":28},{"t":7970,"a":29},{"t":7977,"a":30},
{"t":7990,"a":15},{"t":7998,"a":17},{"t":8006,"a":19},{"t":8017,"a":21},{"t":8024,"a":23},{"t":8032,"a":24},{"t":8043,"a":12},{"t":8053,"a":14},{"t":8066,"a":16},{"t":8076,"a":18},
{"t":8087,"a":9},{"t":8097,"a":11},{"t":8108,"a":13},{"t":8118,"a":15},{"t":8129,"a":17},{"t":8139,"a":19},{"t":8150,"a":21},
{"t":8162,"a":11},{"t":8171,"a":13},{"t":8181,"a":15},{"t":8191,"a":17},{"t":8202,"a":18},{"t":8212,"a":20},{"t":8223,"a":21},{"t":8233,"a":22},{"t":8238,"a":23},
{"t":8247,"a":12},{"t":8254,"a":14},{"t":8265,"a":16},{"t":8275,"a":17},{"t":8286,"a":19},{"t":8296,"a":20},{"t":8304,"a":21},{"t":8314,"a":23},
{"t":8325,"a":12},{"t":8333,"a":14},{"t":8346,"a":7},{"t":8354,"a":9},{"t":8361,"a":10},{"t":8371,"a":11},{"t":8380,"a":12},{"t":8388,"a":13},{"t":8395,"a":14},{"t":8403,"a":15},{"t":8411,"a":16},{"t":8417,"a":17},
{"t":8427,"a":9},{"t":8434,"a":10},{"t":8440,"a":12},{"t":8453,"a":6},{"t":8465,"a":8},{"t":8476,"a":10},{"t":8484,"a":12},{"t":8495,"a":6},{"t":8507,"a":8},{"t":8516,"a":10},{"t":8526,"a":5},{"t":8539,"a":7},{"t":8549,"a":9},{"t":8563,"a":11},{"t":8573,"a":13},{"t":8582,"a":14},{"t":8592,"a":16},{"t":8605,"a":17},
{"t":8612,"a":19},{"t":8626,"a":20},{"t":8633,"a":21},{"t":8639,"a":22},{"t":8647,"a":23},{"t":8654,"a":12},{"t":8666,"a":14},{"t":8673,"a":15},{"t":8684,"a":16},{"t":8694,"a":17},{"t":8702,"a":18},{"t":8713,"a":19},{"t":8720,"a":20},{"t":8728,"a":21},{"t":8736,"a":22},{"t":8744,"a":23},{"t":8752,"a":24},{"t":8760,"a":25},{"t":8767,"a":26},{"t":8775,"a":27},
{"t":8786,"a":14},{"t":8794,"a":16},{"t":8804,"a":17},{"t":8812,"a":18},{"t":8820,"a":19},{"t":8828,"a":20},{"t":8835,"a":22},{"t":8844,"a":23},{"t":8851,"a":24},{"t":8860,"a":25},{"t":8867,"a":26},
{"t":8877,"a":13},{"t":8888,"a":15},{"t":8895,"a":16},{"t":8907,"a":8},{"t":8916,"a":10},{"t":8925,"a":12},{"t":8935,"a":13},{"t":8943,"a":14},{"t":8951,"a":16},{"t":8959,"a":17},{"t":8969,"a":18},{"t":8977,"a":19},{"t":8985,"a":20},{"t":8993,"a":21},{"t":9001,"a":22},{"t":9008,"a":23},{"t":9016,"a":24},{"t":9022,"a":25},{"t":9029,"a":26},{"t":9035,"a":28},{"t":9042,"a":29},{"t":9048,"a":30},
{"t":9087,"a":15},{"t":9094,"a":17},{"t":9103,"a":18},{"t":9111,"a":19},{"t":9118,"a":20},{"t":9127,"a":21},{"t":9134,"a":22},{"t":9141,"a":23},{"t":9150,"a":24},{"t":9155,"a":25},{"t":9160,"a":26},{"t":9166,"a":27},
{"t":9173,"a":14},{"t":9181,"a":15},{"t":9192,"a":16},{"t":9199,"a":17},{"t":9208,"a":19},{"t":9218,"a":20},{"t":9228,"a":21},{"t":9236,"a":22},{"t":9244,"a":23},{"t":9252,"a":24},{"t":9258,"a":25},{"t":9263,"a":26},{"t":9270,"a":27},
{"t":9279,"a":14},{"t":9288,"a":16},{"t":9297,"a":18},{"t":9307,"a":20},{"t":9315,"a":21},{"t":9325,"a":22},{"t":9331,"a":24},{"t":9339,"a":25},
{"t":9346,"a":13},{"t":9354,"a":14},{"t":9363,"a":16},{"t":9373,"a":17},{"t":9380,"a":18},{"t":9389,"a":9},{"t":9396,"a":11},{"t":9405,"a":12},{"t":9412,"a":13},{"t":9419,"a":14},{"t":9428,"a":15},{"t":9438,"a":17},{"t":9449,"a":18},{"t":9457,"a":19},{"t":9464,"a":20},{"t":9473,"a":21},{"t":9480,"a":22},{"t":9488,"a":23},{"t":9494,"a":25},{"t":9501,"a":26},{"t":9506,"a":28},{"t":9511,"a":30},
{"t":9532,"a":15},{"t":9540,"a":16},{"t":9545,"a":17},{"t":9551,"a":18},{"t":9559,"a":20},{"t":9566,"a":21},{"t":9574,"a":11},{"t":9585,"a":13},{"t":9595,"a":7},{"t":9603,"a":8},{"t":9611,"a":9},{"t":9618,"a":10},{"t":9627,"a":12},{"t":9635,"a":6},{"t":9648,"a":8},{"t":9660,"a":8}
      ]},
      "mark": {"type": "line", "interpolate": "step-after", "strokeWidth": 3.3, "color": "#0072BD", "clip": true},
      "encoding": {
        "x": {"field": "t", "type": "quantitative", "scale": {"domain": [6467, 9651], "nice": false, "zero": false}, "axis": {"values": [6500,7000,7500,8000,8500,9000,9500], "title": "Time [sec]", "grid": true, "labelPadding": 33, "titlePadding": 14}},
        "y": {"field": "a", "type": "quantitative", "scale": {"domain": [4.85, 32], "nice": false, "zero": false}, "axis": {"values": [5,10,15,20,25,30], "title": "Current [Amps]", "grid": true, "labelPadding": 25, "titlePadding": 8}}
      }
     },
     {
      "data": {"values": [{"t": 6500, "a": 10, "f": 0.5}]},
      "mark": {"type": "point", "opacity": 0},
      "encoding": {
        "x": {"field": "t", "type": "quantitative", "axis": {"orient": "top", "values": [6500,7000,7500,8000,8500,9000,9500], "labels": false, "title": null, "grid": false}},
        "y": {"field": "a", "type": "quantitative", "axis": {"orient": "right", "values": [5,10,15,20,25,30], "labels": false, "title": null, "grid": false}},
        "color": {"field": "f", "type": "quantitative", "scale": {"domain": [0, 1], "range": ["rgba(255,255,255,0)", "rgba(255,255,255,0)"]},
          "legend": {"orient": "none", "legendX": -1639, "legendY": -269.5, "direction": "horizontal", "gradientLength": 2795, "gradientThickness": 1040, "gradientStrokeColor": "black", "gradientStrokeWidth": 5, "labelOpacity": 0, "labelOffset": -600, "title": null, "padding": 0}}
      }
     }
    ],
    "resolve": {"axis": {"x": "independent", "y": "independent"}}
   }
]
}
